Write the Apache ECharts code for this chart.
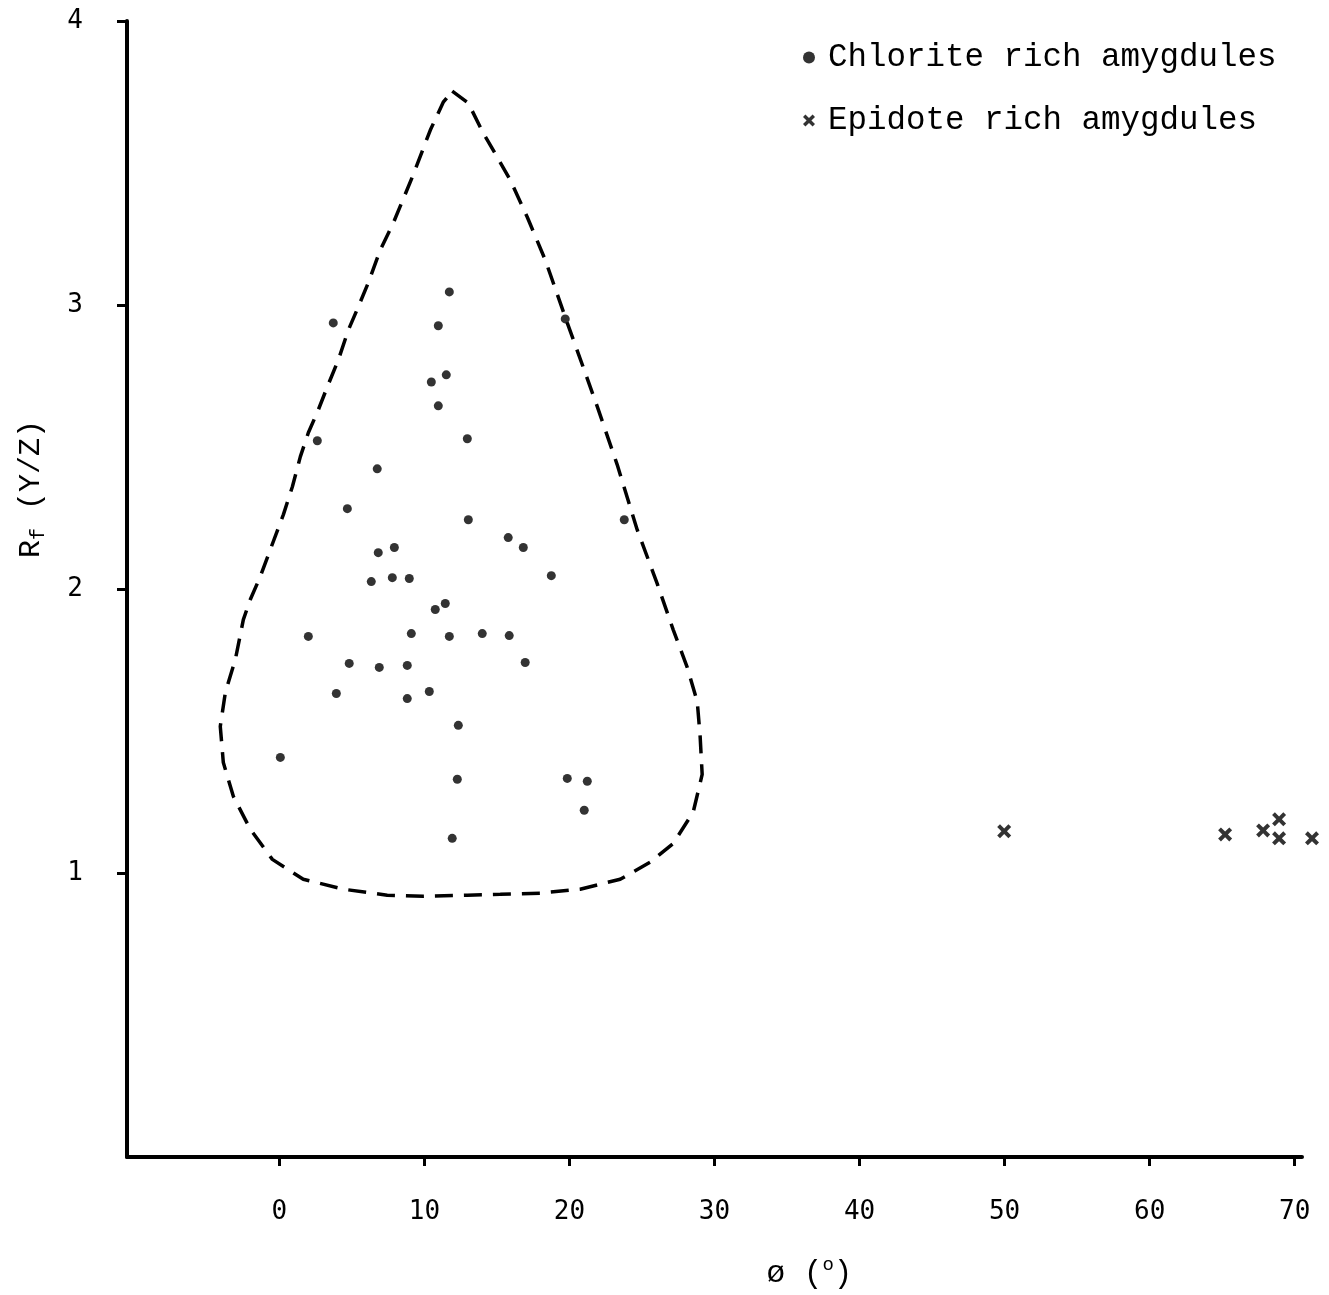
<!DOCTYPE html>
<html>
<head>
<meta charset="utf-8">
<script src="https://cdn.jsdelivr.net/npm/echarts@6/dist/echarts.min.js"></script>
<style>html,body{margin:0;padding:0;background:#fff}#c{width:1329px;height:1295px}</style>
</head>
<body>
<div id="c"></div>
<script>
// ---- data ----
var xTicks = [0, 10, 20, 30, 40, 50, 60, 70];
var yTicks = [1, 2, 3, 4];

var chloritePhi = [11.72, 3.72, 10.96, 19.71, 10.48, 11.51, 10.96, 2.62, 12.96, 6.75, 4.69, 13.03, 23.78, 15.78, 16.82, 6.82, 7.93, 6.34, 7.79, 8.96, 18.75, 10.75, 11.44, 2.0, 9.10, 11.72, 13.99, 15.85, 4.82, 6.89, 8.82, 16.95, 3.93, 8.82, 10.34, 12.34, 0.07, 12.27, 19.85, 21.23, 21.02, 11.92];
var chloriteRf  = [3.046, 2.937, 2.927, 2.951, 2.729, 2.754, 2.645, 2.522, 2.529, 2.423, 2.283, 2.244, 2.244, 2.181, 2.146, 2.128, 2.146, 2.026, 2.040, 2.037, 2.047, 1.928, 1.949, 1.833, 1.843, 1.833, 1.843, 1.836, 1.738, 1.724, 1.731, 1.741, 1.632, 1.614, 1.639, 1.520, 1.407, 1.330, 1.333, 1.323, 1.221, 1.122];

var epidotePhi = [49.97, 65.20, 67.82, 68.92, 68.92, 71.19];
var epidoteRf  = [1.147, 1.136, 1.150, 1.189, 1.122, 1.122];

// dashed envelope
var envelopePhi = [11.92, 13.03, 14.06, 15.02, 15.92, 17.09, 18.33, 19.85, 21.09, 21.92, 23.29, 24.67, 26.05, 27.15, 28.12, 28.81, 29.01, 29.15, 28.53, 27.15, 25.57, 23.50, 20.74, 17.99, 15.23, 12.96, 9.92, 7.44, 4.41, 1.65, -0.48, -2.00, -3.17, -3.86, -4.07, -3.72, -3.03, -2.48, -2.00, -1.31, -0.62, 0.28, 0.90, 1.45, 2.00, 2.69, 3.31, 4.07, 4.76, 5.44, 6.13, 6.96, 7.86, 9.17, 10.41, 11.30, 11.92];
var envelopeRf  = [3.753, 3.711, 3.605, 3.521, 3.440, 3.310, 3.159, 2.937, 2.761, 2.642, 2.438, 2.209, 2.019, 1.857, 1.724, 1.604, 1.481, 1.347, 1.214, 1.104, 1.038, 0.978, 0.943, 0.929, 0.925, 0.922, 0.918, 0.922, 0.943, 0.978, 1.048, 1.154, 1.270, 1.389, 1.516, 1.636, 1.752, 1.892, 1.963, 2.044, 2.139, 2.262, 2.360, 2.466, 2.550, 2.631, 2.712, 2.807, 2.912, 2.993, 3.078, 3.194, 3.289, 3.451, 3.616, 3.714, 3.753];

var seriesNames = ['Chlorite rich amygdules', 'Epidote rich amygdules'];

function pairs(a, b) { return a.map(function (v, i) { return [v, b[i]]; }); }

var crossPath = 'path://M0,2 L2,0 L5,3 L8,0 L10,2 L7,5 L10,8 L8,10 L5,7 L2,10 L0,8 L3,5 Z';
var monoFont = 'Liberation Mono';

var chart = echarts.init(document.getElementById('c'), null, { renderer: 'canvas' });
chart.setOption({
  backgroundColor: '#ffffff',
  animation: false,
  grid: { left: 127, right: 27, top: 21, bottom: 138, containLabel: false },
  legend: {
    orient: 'vertical',
    left: 798,
    top: 36,
    itemGap: 30,
    itemWidth: 12,
    itemHeight: 12,
    textStyle: { fontFamily: monoFont, fontSize: 32.5, color: '#000', padding: [0, 0, 0, 8] },
    data: [
      { name: seriesNames[0], icon: 'circle', itemStyle: { color: '#000' } },
      { name: seriesNames[1], icon: crossPath, itemStyle: { color: '#000' } }
    ]
  },
  xAxis: {
    type: 'value',
    min: -10.5,
    max: 70.5,
    name: '{t|ø (}{s|o}{t|)}',
    nameLocation: 'middle',
    nameGap: 98,
    nameTextStyle: {
      padding: [0, 0, 0, 190],
      rich: {
        t: { fontFamily: monoFont, fontSize: 31, color: '#000' },
        s: { fontFamily: monoFont, fontSize: 19, color: '#000', padding: [0, 0, 18, 0] }
      }
    },
    axisLine: { show: true, onZero: false, lineStyle: { color: '#000', width: 4 } },
    axisTick: { show: true, length: 9, customValues: xTicks, lineStyle: { color: '#000', width: 3 } },
    axisLabel: { customValues: xTicks, margin: 42, fontFamily: 'DejaVu Sans Mono', fontSize: 26, color: '#000' },
    splitLine: { show: false }
  },
  yAxis: {
    type: 'value',
    min: 0,
    max: 4,
    interval: 1,
    name: '{r|R}{s|f}{r| (Y/Z)}',
    nameLocation: 'middle',
    nameRotate: 90,
    nameGap: 78,
    nameTextStyle: {
      padding: [0, 0, 0, 200],
      rich: {
        r: { fontFamily: monoFont, fontSize: 30, color: '#000' },
        s: { fontFamily: monoFont, fontSize: 20, color: '#000', padding: [16, 0, 0, 0] }
      }
    },
    axisLine: { show: true, onZero: false, lineStyle: { color: '#000', width: 4 } },
    axisTick: { show: true, length: 10, customValues: yTicks, lineStyle: { color: '#000', width: 3 } },
    axisLabel: { customValues: yTicks, margin: 44, fontFamily: 'DejaVu Sans Mono', fontSize: 26, color: '#000' },
    splitLine: { show: false }
  },
  series: [
    {
      name: 'envelope',
      type: 'line',
      data: pairs(envelopePhi, envelopeRf),
      showSymbol: false,
      symbol: 'none',
      smooth: false,
      silent: true,
      lineStyle: { color: '#000', width: 3.5, type: [18, 11] },
      z: 1
    },
    {
      name: seriesNames[0],
      type: 'scatter',
      data: pairs(chloritePhi, chloriteRf),
      symbol: 'circle',
      symbolSize: 9,
      itemStyle: { color: '#000' },
      clip: false,
      z: 3
    },
    {
      name: seriesNames[1],
      type: 'scatter',
      data: pairs(epidotePhi, epidoteRf),
      symbol: crossPath,
      symbolSize: 14,
      itemStyle: { color: '#000' },
      clip: false,
      z: 3
    }
  ]
});
</script>
</body>
</html>
